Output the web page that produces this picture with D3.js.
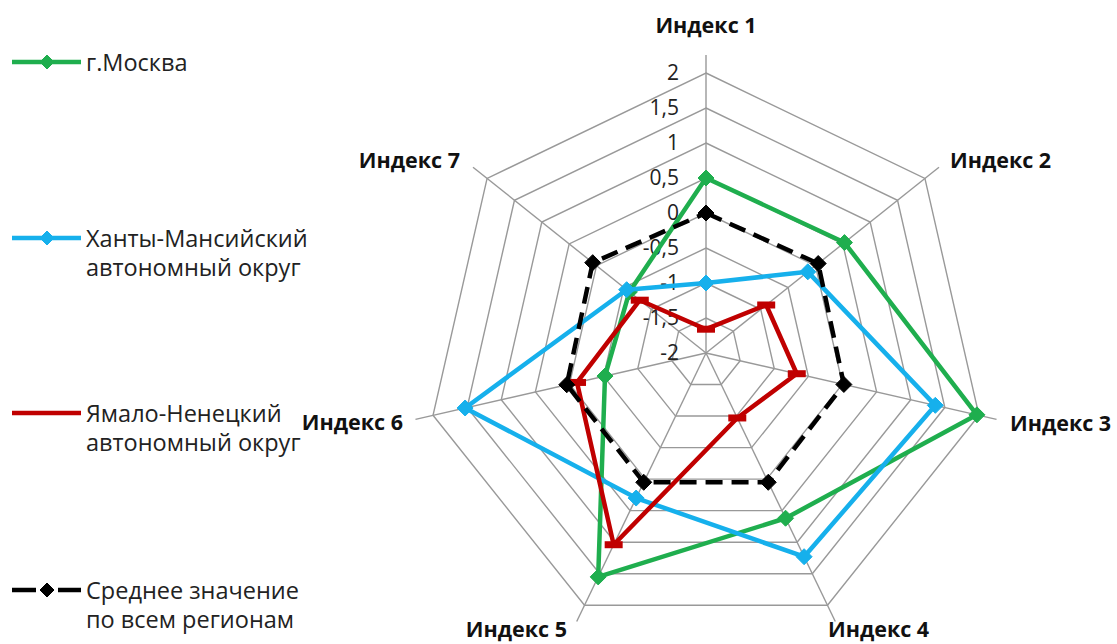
<!DOCTYPE html>
<html><head><meta charset="utf-8">
<script src="https://cdn.jsdelivr.net/npm/d3@7"></script>
<style>
body{margin:0;background:#fff;}
svg{display:block;}
text{font-family:"Open Sans","DejaVu Sans",sans-serif;}
</style></head>
<body>
<svg id="chart" width="1117" height="644"></svg>
<script>
const categories = ["Индекс 1","Индекс 2","Индекс 3","Индекс 4","Индекс 5","Индекс 6","Индекс 7"];
const moscow = [0.5, 0.53, 1.97, 0.62, 1.55, -0.52, -0.6];
const khmao  = [-1.0, -0.14, 1.36, 1.23, 0.3, 1.53, -0.55];
const yanao  = [-1.66, -0.9, -0.67, -0.97, 1.04, -0.11, -0.79];
const average = [0.0, 0.05, 0.02, 0.05, 0.05, 0.04, 0.07];
const tickValues = [-2,-1.5,-1,-0.5,0,0.5,1,1.5,2];
const tickLabels = ["-2","-1,5","-1","-0,5","0","0,5","1","1,5","2"];
const seriesNames = ["г.Москва","Ханты-Мансийский\nавтономный округ","Ямало-Ненецкий\nавтономный округ","Среднее значение\nпо всем регионам"];

const series = [
  {name: seriesNames[0], values: moscow, color:"#1fae4e", marker:"diamond", dash:null},
  {name: seriesNames[1], values: khmao, color:"#16b0ec", marker:"diamond", dash:null},
  {name: seriesNames[2], values: yanao, color:"#c00000", marker:"dash", dash:null},
  {name: seriesNames[3], values: average, color:"#000000", marker:"diamond", dash:"17,9"}
];

const svg = d3.select("#chart");
const cx = 706, cy = 353;
const r = d3.scaleLinear().domain([-2, 2]).range([0, 280]);
const angle = d3.scaleLinear().domain([0, categories.length]).range([0, 2*Math.PI]);
function polar(i, rr){ const a = angle(i); return [cx + rr*Math.sin(a), cy - rr*Math.cos(a)]; }
function pt(i, v){ return polar(i, r(v)); }

const g = svg.append("g");
// rings
tickValues.filter(v => v > -2).forEach(v => {
  const pts = categories.map((c,i) => pt(i, v));
  g.append("polygon").attr("points", pts.map(p => p.join(",")).join(" "))
    .attr("fill","none").attr("stroke","#999").attr("stroke-width",1.4);
});
// spokes
categories.forEach((c,i) => {
  const p = polar(i, 298);
  g.append("line").attr("x1",cx).attr("y1",cy).attr("x2",p[0]).attr("y2",p[1])
    .attr("stroke","#999").attr("stroke-width",1.4);
});
// tick labels
tickValues.forEach((v,k) => {
  g.append("text").attr("x", 679).attr("y", cy - r(v) + 7)
    .attr("text-anchor","end").attr("font-size",21).attr("fill","#222").text(tickLabels[k]);
});
// category labels
const labelPos = [
  {x:706, y:33, anchor:"middle"},
  {x:950, y:168, anchor:"start"},
  {x:1010, y:431, anchor:"start"},
  {x:828, y:637, anchor:"start"},
  {x:567, y:637, anchor:"end"},
  {x:403, y:430, anchor:"end"},
  {x:460, y:168, anchor:"end"}
];
categories.forEach((c,i) => {
  g.append("text").attr("x",labelPos[i].x).attr("y",labelPos[i].y)
    .attr("text-anchor",labelPos[i].anchor).attr("font-size",21.5).attr("font-weight","bold")
    .attr("fill","#111").text(c);
});

const line = d3.line().curve(d3.curveLinearClosed);
function drawMarker(sel, x, y, s, sz){
  if (s.marker === "diamond") {
    sel.append("path").attr("d", `M${x},${y-sz}L${x+sz},${y}L${x},${y+sz}L${x-sz},${y}Z`)
      .attr("fill", s.color).attr("stroke", s.color).attr("stroke-width",1);
  } else if (s.marker === "dash") {
    sel.append("rect").attr("x", x-9).attr("y", y-3.5).attr("width",18).attr("height",7).attr("fill", s.color);
  }
}
series.forEach(s => {
  const pts = s.values.map((v,i) => pt(i, v));
  const p = g.append("path").attr("d", line(pts)).attr("fill","none")
    .attr("stroke", s.color).attr("stroke-width",4.5).attr("stroke-linejoin","round");
  if (s.dash) p.attr("stroke-dasharray", s.dash);
  pts.forEach(q => drawMarker(g, q[0], q[1], s, 8));
});

// legend
const legendY = [62, 238, 413, 590];
series.forEach((s,k) => {
  const y = legendY[k];
  const lg = svg.append("g");
  if (s.dash) {
    lg.append("line").attr("x1",12).attr("x2",36).attr("y1",y).attr("y2",y).attr("stroke",s.color).attr("stroke-width",4.5);
    lg.append("line").attr("x1",58).attr("x2",81).attr("y1",y).attr("y2",y).attr("stroke",s.color).attr("stroke-width",4.5);
  } else {
    lg.append("line").attr("x1",12).attr("x2",81).attr("y1",y).attr("y2",y).attr("stroke",s.color).attr("stroke-width",4.5);
  }
  if (s.marker === "diamond") drawMarker(lg, 47, y, s, 7);
  const lines = s.name.split("\n");
  const t = lg.append("text").attr("x",86).attr("y",y+9).attr("font-size",23.5).attr("fill","#222");
  lines.forEach((ln,j) => t.append("tspan").attr("x",86).attr("dy", j===0?0:29).text(ln));
});
</script>
</body></html>
